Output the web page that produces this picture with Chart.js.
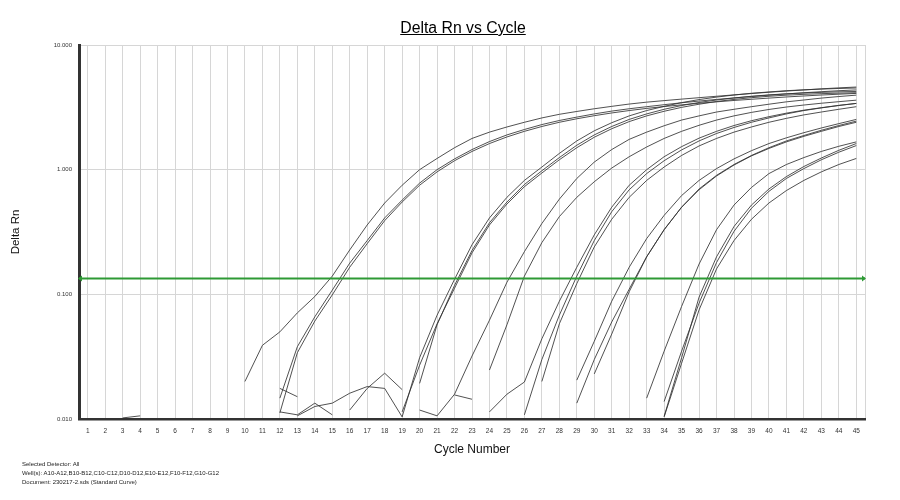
<!DOCTYPE html>
<html>
<head>
<meta charset="utf-8">
<title>Delta Rn vs Cycle</title>
<script src="https://cdn.jsdelivr.net/npm/chart.js@4.4.1/dist/chart.umd.min.js"></script>
<style>
  body { margin: 0; background: #fff; }
  #wrap { position: relative; width: 900px; height: 500px; font-family: "Liberation Sans", Arial, sans-serif; }
  #plot { position: absolute; left: 0; top: 0; }
  #title { position: absolute; left: 0; width: 926px; top: 20px; text-align: center; font-size: 15.8px; line-height: 16px; text-decoration: underline; color: #000; }
  #footer { position: absolute; left: 22px; top: 460px; font-size: 6px; line-height: 9px; color: #222; }
</style>
</head>
<body>
<div id="wrap">
  <canvas id="plot" width="900" height="500"></canvas>
  <div id="title">Delta Rn vs Cycle</div>
  <div id="footer">
    <div>Selected Detector: All</div>
    <div>Well(s): A10-A12,B10-B12,C10-C12,D10-D12,E10-E12,F10-F12,G10-G12</div>
    <div>Document: 230217-2.sds (Standard Curve)</div>
  </div>
</div>
<script>
const cycles = [1, 2, 3, 4, 5, 6, 7, 8, 9, 10, 11, 12, 13, 14, 15, 16, 17, 18, 19, 20, 21, 22, 23,
  24, 25, 26, 27, 28, 29, 30, 31, 32, 33, 34, 35, 36, 37, 38, 39, 40, 41, 42, 43, 44, 45];
const rnTicks = [0.01, 0.1, 1, 10];
const thresholdRn = 0.134;

const wells = ["A10", "A11", "A12", "B10", "B11", "B12", "C10", "C11", "C12", "D10", "D11",
  "D12", "E10", "E11", "E12", "F10", "F11", "F12", "G10", "G11", "G12"];
// cycle of the first value in each well's array
const firstCycle = [10, 12, 12, 13, 20, 19, 20, 24, 24, 26, 27, 29, 29, 30, 33, 34, 34, 34, 3, 12, 16];

const rnA10 = [0.020, 0.039, 0.050, 0.071, 0.096, 0.14, 0.227, 0.36, 0.54, 0.75, 1.0, 1.23, 1.5, 1.78,
  2.0, 2.2, 2.4, 2.6, 2.78, 2.93, 3.08, 3.22, 3.36, 3.48, 3.58, 3.68, 3.78, 3.88, 3.98, 4.08, 4.18,
  4.27, 4.36, 4.45, 4.53, 4.6];
const rnA11 = [0.0147, 0.038, 0.066, 0.108, 0.178, 0.27, 0.41, 0.57, 0.78, 1.0, 1.22, 1.45, 1.68, 1.9,
  2.1, 2.3, 2.48, 2.64, 2.8, 2.95, 3.08, 3.2, 3.32, 3.44, 3.55, 3.66, 3.76, 3.86, 3.96, 4.05, 4.14,
  4.22, 4.3, 4.36];
const rnA12 = [0.0112, 0.034, 0.061, 0.099, 0.165, 0.255, 0.39, 0.55, 0.75, 0.96, 1.18, 1.4, 1.62, 1.83,
  2.03, 2.22, 2.4, 2.56, 2.71, 2.85, 2.98, 3.1, 3.21, 3.31, 3.41, 3.5, 3.59, 3.67, 3.75, 3.83, 3.9,
  3.97, 4.03, 4.09];
const rnB10 = [0.0106, 0.0126, 0.0134, 0.0161, 0.0182, 0.0176, 0.0104, 0.031, 0.068, 0.132, 0.25, 0.41,
  0.6, 0.82, 1.05, 1.35, 1.7, 2.05, 2.38, 2.7, 2.98, 3.22, 3.45, 3.65, 3.82, 3.97, 4.1, 4.2, 4.3, 4.37,
  4.43, 4.48, 4.52];
const rnB11 = [0.0193, 0.057, 0.118, 0.225, 0.375, 0.55, 0.76, 0.98, 1.25, 1.57, 1.9, 2.22, 2.53, 2.8,
  3.05, 3.27, 3.46, 3.62, 3.76, 3.88, 3.98, 4.06, 4.12, 4.17, 4.21, 4.24];
const rnB12 = [0.0114, 0.027, 0.058, 0.112, 0.215, 0.36, 0.53, 0.73, 0.94, 1.2, 1.5, 1.82, 2.13, 2.43,
  2.7, 2.94, 3.16, 3.35, 3.52, 3.66, 3.78, 3.88, 3.96, 4.02, 4.07, 4.11, 4.14];
const rnC10 = [0.0118, 0.0106, 0.0158, 0.032, 0.062, 0.125, 0.22, 0.37, 0.58, 0.85, 1.15, 1.45, 1.75,
  2.0, 2.25, 2.5, 2.7, 2.9, 3.05, 3.2, 3.35, 3.5, 3.62, 3.75, 3.86, 3.96];
const rnC11 = [0.0247, 0.057, 0.14, 0.26, 0.42, 0.6, 0.8, 1.03, 1.27, 1.52, 1.78, 2.03, 2.27, 2.5, 2.7,
  2.88, 3.04, 3.18, 3.3, 3.41, 3.51, 3.61];
const rnC12 = [0.0114, 0.0158, 0.0198, 0.044, 0.088, 0.165, 0.3, 0.5, 0.75, 1.0, 1.27, 1.53, 1.79, 2.03,
  2.26, 2.47, 2.66, 2.84, 3.0, 3.14, 3.28, 3.4];
const rnD10 = [0.0108, 0.03, 0.068, 0.14, 0.27, 0.46, 0.69, 0.93, 1.18, 1.44, 1.7, 1.95, 2.18, 2.4, 2.6,
  2.8, 2.98, 3.13, 3.27, 3.4];
const rnD11 = [0.02, 0.058, 0.122, 0.24, 0.4, 0.6, 0.82, 1.05, 1.3, 1.55, 1.78, 2.0, 2.2, 2.4, 2.58,
  2.75, 2.9, 3.05, 3.2];
const rnD12 = [0.0205, 0.042, 0.088, 0.165, 0.28, 0.43, 0.62, 0.82, 1.02, 1.22, 1.42, 1.62, 1.8, 1.98,
  2.16, 2.34, 2.53];
const rnE10 = [0.0134, 0.03, 0.06, 0.11, 0.2, 0.33, 0.5, 0.7, 0.9, 1.1, 1.3, 1.5, 1.7, 1.88, 2.07,
  2.26, 2.45];
const rnE11 = [0.023, 0.048, 0.105, 0.2, 0.33, 0.5, 0.69, 0.89, 1.09, 1.29, 1.48, 1.67, 1.85, 2.03,
  2.22, 2.4];
const rnE12 = [0.0147, 0.035, 0.08, 0.175, 0.33, 0.52, 0.72, 0.93, 1.1, 1.25, 1.4, 1.54, 1.67];
const rnF10 = [0.0105, 0.031, 0.095, 0.2, 0.35, 0.52, 0.7, 0.88, 1.06, 1.24, 1.43, 1.62];
const rnF11 = [0.0138, 0.035, 0.085, 0.18, 0.32, 0.49, 0.67, 0.85, 1.02, 1.2, 1.38, 1.56];
const rnF12 = [0.0104, 0.028, 0.075, 0.16, 0.27, 0.4, 0.54, 0.68, 0.82, 0.96, 1.1, 1.23];
// no-template wells, only noise above the axis floor (null = value <= 0)
const rnG10 = [0.0102, 0.0106, null, null, null, null, null, null, null, 0.0176, 0.0151];
const rnG11 = [0.0114, 0.0108, 0.0134, 0.0108, null, null, null, null, null, null, 0.0156, 0.0144];
const rnG12 = [0.0118, 0.0176, 0.0233, 0.0172];

const series = [rnA10, rnA11, rnA12, rnB10, rnB11, rnB12, rnC10, rnC11, rnC12, rnD10, rnD11,
  rnD12, rnE10, rnE11, rnE12, rnF10, rnF11, rnF12, rnG10, rnG11, rnG12];

const FONT = "'Liberation Sans', Arial, sans-serif";
Chart.defaults.font.family = FONT;

const datasets = series.map((vals, k) => ({
  label: wells[k],
  data: vals.map((v, i) => ({ x: firstCycle[k] + i, y: v })),
  borderColor: "rgba(50,50,50,0.85)",
  borderWidth: 1,
  pointRadius: 0,
  tension: 0,
  spanGaps: false
}));

const thresholdLine = {
  id: "thresholdLine",
  afterDatasetsDraw(chart) {
    const { ctx, chartArea: a, scales: { y } } = chart;
    const py = y.getPixelForValue(thresholdRn);
    ctx.save();
    ctx.strokeStyle = "#2e9a35";
    ctx.fillStyle = "#2e9a35";
    ctx.lineWidth = 2;
    ctx.beginPath();
    ctx.moveTo(a.left, py);
    ctx.lineTo(a.right, py);
    ctx.stroke();
    ctx.beginPath();
    ctx.moveTo(a.right + 1, py);
    ctx.lineTo(a.right - 3, py - 3);
    ctx.lineTo(a.right - 3, py + 3);
    ctx.fill();
    ctx.beginPath();
    ctx.moveTo(a.left - 1, py);
    ctx.lineTo(a.left + 3, py - 3);
    ctx.lineTo(a.left + 3, py + 3);
    ctx.fill();
    ctx.restore();
  }
};

new Chart(document.getElementById("plot"), {
  type: "line",
  data: { datasets },
  plugins: [thresholdLine],
  options: {
    responsive: false,
    animation: false,
    layout: { padding: { left: 0, right: 35, top: 45, bottom: 0 } },
    plugins: {
      legend: { display: false },
      tooltip: { enabled: false },
      title: { display: false }
    },
    scales: {
      x: {
        type: "linear",
        min: 0.5,
        max: 45.5,
        afterBuildTicks: (s) => {
          s.ticks = cycles.map((c) => ({ value: c })).concat([{ value: 45.5 }]);
        },
        afterFit: (s) => { s.height = 81; },
        ticks: {
          autoSkip: false,
          maxRotation: 0,
          padding: 8,
          color: "#333",
          font: { size: 6.5 },
          callback: (v) => (Number.isInteger(v) ? String(v) : "")
        },
        grid: { color: "#d6d6d6", drawTicks: false },
        border: { color: "#333", width: 2.5 },
        title: {
          display: true,
          text: "Cycle Number",
          color: "#111",
          font: { size: 12 },
          padding: { top: 0, bottom: 43 }
        }
      },
      y: {
        type: "logarithmic",
        min: 0.01,
        max: 10,
        afterBuildTicks: (s) => {
          s.ticks = rnTicks.map((v) => ({ value: v }));
        },
        afterFit: (s) => { s.width = 79; },
        ticks: {
          padding: 7,
          color: "#333",
          font: { size: 6 },
          callback: (v) => Number(v).toFixed(3)
        },
        grid: { color: "#d6d6d6", drawTicks: false },
        border: { color: "#333", width: 3 },
        title: {
          display: true,
          text: "Delta Rn",
          color: "#111",
          font: { size: 11.5 },
          padding: { top: 9, bottom: 0 }
        }
      }
    }
  }
});
</script>
</body>
</html>
